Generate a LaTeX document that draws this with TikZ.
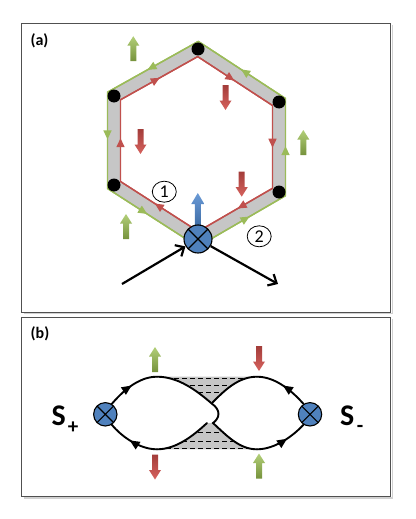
\documentclass[tikz,border=0pt]{standalone}
\usepackage{fontspec}
\setmainfont{Carlito}
\usetikzlibrary{arrows.meta,decorations.markings,shapes.geometric}

\definecolor{offgreen}{HTML}{9BBB59}
\definecolor{offgreenL}{HTML}{B2CF78}
\definecolor{offgreenD}{HTML}{76923C}
\definecolor{offred}{HTML}{C0504D}
\definecolor{offredL}{HTML}{D6625E}
\definecolor{offredD}{HTML}{A33D3A}
\definecolor{offblue}{HTML}{4F81BD}
\definecolor{offblueL}{HTML}{6A9AD6}
\definecolor{offblueD}{HTML}{3B6AA3}
\definecolor{bandgray}{HTML}{C6C6C6}
\definecolor{framegray}{HTML}{505050}

\tikzset{
  panel/.style={draw=framegray, line width=1pt},
  panelshadow/.style={draw=black!18, line width=1.6pt},
  vdot/.style={circle, fill=black, minimum size=13pt, inner sep=0pt},
  crossed/.style={circle, draw=black, line width=1.1pt, fill=offblue, minimum size=#1, inner sep=0pt,
     path picture={\draw[line width=1.1pt] (path picture bounding box.north west) -- (path picture bounding box.south east)
       (path picture bounding box.north east) -- (path picture bounding box.south west);}},
  marr/.style={postaction={decorate, decoration={markings, mark=at position #1 with {\arrow{Triangle[length=9pt,width=8pt]}}}}},
  marrb/.style={postaction={decorate, decoration={markings, mark=at position #1 with {\arrow{Triangle[length=10pt,width=8.5pt]}}}}},
  redline/.style={draw=offred, line width=1.4pt, line join=miter},
  greenline/.style={draw=offgreen, line width=1.4pt, line join=miter},
  blackcurve/.style={draw=black, line width=1.9pt, line cap=round},
  bigarr/.style={draw=black, line width=2.2pt, -{Straight Barb[length=7pt,width=13pt]}},
  gfill/.style={top color=offgreenL, bottom color=offgreenD, draw=none},
  rfill/.style={top color=offredD, bottom color=offredL, draw=none},
  bfill/.style={top color=offblueL, bottom color=offblueD, draw=none},
  numcirc/.style={ellipse, draw=black, line width=0.8pt, minimum width=24pt, minimum height=21pt, inner sep=0pt, font=\fontsize{18}{18}\selectfont},
  plabel/.style={font=\fontsize{16}{16}\selectfont\bfseries, inner sep=0pt},
  dashrow/.style={draw=black, line width=0.9pt, dash pattern=on 5pt off 3pt},
  regiongray/.style={fill=bandgray},
  pics/uparr/.style={code={\path[#1] (-3,12.5) -- (-3,-3) -- (-6,-3) -- (0,-12.5) -- (6,-3) -- (3,-3) -- (3,12.5) -- cycle;}},
  pics/downarr/.style={code={\path[#1] (-3,-12.5) -- (-3,3) -- (-6,3) -- (0,12.5) -- (6,3) -- (3,3) -- (3,-12.5) -- cycle;}},
  pics/uparrlong/.style={code={\path[#1] (-3,17) -- (-3,-6) -- (-6.5,-6) -- (0,-17) -- (6.5,-6) -- (3,-6) -- (3,17) -- cycle;}},
}

\begin{document}
\begin{tikzpicture}[x=1pt,y=-1pt]
\useasboundingbox (0,0) rectangle (415,519);

% ---------- panel frames ----------
\draw[panelshadow] (23.5,313.5) -- (392.3,313.5) -- (392.3,25.5);
\draw[panelshadow] (23.5,498.2) -- (392.3,498.2) -- (392.3,319.2);
\draw[panel] (21.7,24) rectangle (390.7,312.3);
\draw[panel] (21.7,317.7) rectangle (390.7,496.7);
\node[plabel] (la) at (39.5,41) {(a)};
\node[plabel] (lb) at (40,334) {(b)};

% ---------- panel (a): hexagon ----------
\coordinate (B) at (198,239);
\coordinate (LL) at (114,185);
\coordinate (UL) at (114,96);
\coordinate (T) at (198,49);
\coordinate (UR) at (279,102);
\coordinate (LR) at (279,192);

\coordinate (Bi) at (198.2,231.4);
\coordinate (LLi) at (120.5,181.5);
\coordinate (ULi) at (120.5,99.8);
\coordinate (Ti) at (197.7,56.6);
\coordinate (URi) at (272.5,105.5);
\coordinate (LRi) at (272.5,188.3);

\coordinate (Bo) at (197.8,246.6);
\coordinate (LLo) at (107.5,188.5);
\coordinate (ULo) at (107.5,92.2);
\coordinate (To) at (198.3,41.4);
\coordinate (URo) at (285.5,98.5);
\coordinate (LRo) at (285.5,195.7);

\fill[bandgray, even odd rule] (Bo) -- (LLo) -- (ULo) -- (To) -- (URo) -- (LRo) -- cycle
  (Bi) -- (LLi) -- (ULi) -- (Ti) -- (URi) -- (LRi) -- cycle;

% red loop (clockwise on screen)
\draw[redline] (Bi) -- (LLi) -- (ULi) -- (Ti) -- (URi) -- (LRi) -- cycle;
\begin{scope}[offred]
\draw[redline, marr=0.56] (Bi) -- (LLi);
\draw[redline, marr=0.53] (LLi) -- (ULi);
\draw[redline, marr=0.51] (ULi) -- (Ti);
\draw[redline, marr=0.49] (Ti) -- (URi);
\draw[redline, marr=0.51] (URi) -- (LRi);
\draw[redline, marr=0.47] (LRi) -- (Bi);
\end{scope}

% green loop (counter-clockwise on screen)
\draw[greenline] (Bo) -- (LRo) -- (URo) -- (To) -- (ULo) -- (LLo) -- cycle;
\begin{scope}[offgreen]
\draw[greenline, marr=0.59] (Bo) -- (LRo);
\draw[greenline, marr=0.51] (LRo) -- (URo);
\draw[greenline, marr=0.51] (URo) -- (To);
\draw[greenline, marr=0.56] (To) -- (ULo);
\draw[greenline, marr=0.49] (ULo) -- (LLo);
\draw[greenline, marr=0.44] (LLo) -- (Bo);
\end{scope}

\node[vdot] (dLL) at (LL) {};
\node[vdot] (dUL) at (UL) {};
\node[vdot] (dT) at (T) {};
\node[vdot] (dUR) at (UR) {};
\node[vdot] (dLR) at (LR) {};

% block arrows (a)
\pic at (133.3,48.7) {uparr=gfill};
\pic at (303.3,142.5) {uparr=gfill};
\pic at (126,226.5) {uparr=gfill};
\pic at (225.5,97.5) {downarr=rfill};
\pic at (140.5,141.5) {downarr=rfill};
\pic at (241.7,184.2) {downarr=rfill};
\pic at (197.8,210) {uparrlong=bfill};

\node[crossed=28pt] (C) at (B) {};

% circled numbers
\node[numcirc] (n1) at (164.3,191.7) {1};
\node[numcirc] (n2) at (259.2,236.3) {2};

% external arrows
\coordinate (ain) at (122,284);
\coordinate (aout) at (278,284);
\draw[bigarr] (ain) -- (C);
\draw[bigarr] (C) -- (aout);

% ---------- panel (b) ----------
\node[crossed=23.4pt] (L) at (105.3,414.3) {};
\node[crossed=23.4pt] (R) at (310,414.3) {};

% gray regions
\fill[regiongray] (157,376.7) .. controls (178,376.7) and (196,390) .. (211.7,403.5)
  -- (212.5,402.5) .. controls (224,391) and (238,376.7) .. (257,376.7) -- cycle;
\fill[regiongray] (157,449.3) .. controls (176,449.3) and (193,436) .. (207,423)
  -- (213,423) .. controls (228,437) and (240,449.3) .. (257,449.3) -- cycle;

\begin{scope}
\clip (157,376.7) .. controls (178,376.7) and (196,390) .. (211.7,403.5)
  -- (212.5,402.5) .. controls (224,391) and (238,376.7) .. (257,376.7) -- cycle;
\draw[dashrow] (150,378) -- (265,378);
\draw[dashrow] (150,385) -- (265,385);
\draw[dashrow] (150,392.3) -- (265,392.3);
\end{scope}
\begin{scope}
\clip (157,449.3) .. controls (176,449.3) and (193,436) .. (207,423)
  -- (213,423) .. controls (228,437) and (240,449.3) .. (257,449.3) -- cycle;
\draw[dashrow] (150,432.7) -- (265,432.7);
\draw[dashrow] (150,441) -- (265,441);
\draw[dashrow] (150,448.3) -- (265,448.3);
\end{scope}

% curve A: left source (top) -> right source (bottom)
\draw[blackcurve, marrb=0.5] (L.58) .. controls (122,392) and (138,376.7) .. (157,376.7);
\draw[blackcurve] (157,376.7) .. controls (178,376.7) and (196,390) .. (211.7,403.5)
  .. controls (221,410) and (220,418) .. (213,423)
  .. controls (228,437) and (240,449.3) .. (257,449.3);
\draw[blackcurve, marrb=0.6] (257,449.3) .. controls (275,449.3) and (293,436) .. (R.238);
% curve B: right source (top) -> left source (bottom)
\draw[blackcurve, marrb=0.5] (R.122) .. controls (293,392) and (276,376.7) .. (257,376.7);
\draw[blackcurve] (257,376.7) .. controls (238,376.7) and (224,391) .. (212.5,402.5);
\draw[blackcurve] (207,423) .. controls (193,436) and (176,449.3) .. (157,449.3);
\draw[blackcurve, marrb=0.55] (157,449.3) .. controls (139,449.3) and (121,436) .. (L.302);

% block arrows (b)
\pic at (155,359.5) {uparr=gfill};
\pic at (259,358.5) {downarr=rfill};
\pic at (155,467) {downarr=rfill};
\pic at (259,466) {uparr=gfill};

% labels S+ and S-
\node[anchor=base west, inner sep=0pt, font=\bfseries] (splus) at (51.5,425.5)
  {\fontsize{30}{30}\selectfont S\hspace{2pt}\raisebox{-7.5pt}{\fontsize{21}{21}\selectfont +}};
\node[anchor=base west, inner sep=0pt, font=\bfseries] (sminus) at (340,425.5)
  {\fontsize{30}{30}\selectfont S\hspace{2.5pt}\raisebox{-6.5pt}{\fontsize{21}{21}\selectfont -}};
\end{tikzpicture}
\end{document}
